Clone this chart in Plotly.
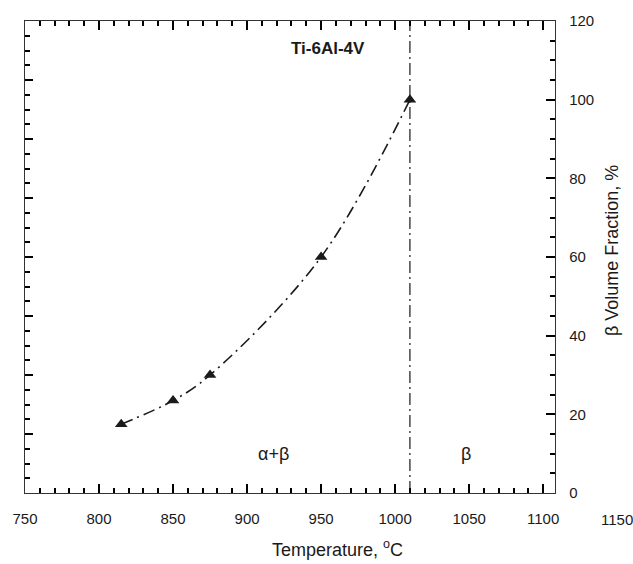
import plotly.graph_objects as go

# Data
temperature_c = [815, 850, 875, 950, 1010]
beta_fraction = [17.5, 23.5, 30, 60, 100]
beta_transus = 1010
x_range = [750, 1108]
y_range = [0, 120]

ink = "#1a1a1a"
axc = "#000000"
font = "Liberation Sans, Arial, sans-serif"

fig = go.Figure()

fig.add_trace(go.Scatter(
    x=temperature_c, y=beta_fraction, mode="lines+markers",
    line=dict(color=ink, width=1.6, dash="12px,5px,2px,5px", shape="spline", smoothing=1.0),
    marker=dict(symbol="triangle-up", size=11, color=ink),
    showlegend=False, hoverinfo="skip"))

fig.add_trace(go.Scatter(
    x=[beta_transus, beta_transus], y=y_range, mode="lines",
    line=dict(color=ink, width=1.2, dash="12px,4px,2px,4px"),
    showlegend=False, hoverinfo="skip"))

fig.add_trace(go.Scatter(x=[750], y=[0], yaxis="y2", mode="markers",
                         marker=dict(opacity=0), showlegend=False, hoverinfo="skip"))

fig.update_layout(
    width=633, height=564, margin=dict(l=25, r=78, t=13, b=71),
    plot_bgcolor="white", paper_bgcolor="white", showlegend=False,
    font=dict(family=font, size=15, color=ink),
    xaxis=dict(range=x_range, dtick=50, ticks="inside", ticklen=9, tickwidth=2, tickcolor=axc,
               minor=dict(dtick=10, ticks="inside", ticklen=5, tickwidth=1.5, tickcolor=axc),
               showline=True, linecolor="#333333", linewidth=1.3, mirror="ticks",
               showgrid=False, zeroline=False, ticklabelstandoff=12),
    yaxis=dict(range=y_range, dtick=20, side="right", ticks="inside", ticklen=9, tickwidth=2,
               tickcolor=axc, minor=dict(dtick=5, ticks="inside", ticklen=5, tickwidth=1.5,
                                         tickcolor=axc),
               showline=True, linecolor="#333333", linewidth=1.3, showgrid=False, zeroline=False,
               ticklabelstandoff=10),
    yaxis2=dict(range=[0, 8], dtick=1, overlaying="y", side="left", ticks="inside",
                ticklen=8, tickwidth=2, tickcolor=axc,
                minor=dict(dtick=0.25, ticks="inside", ticklen=5, tickwidth=1.5, tickcolor=axc),
                showline=True, linecolor="#333333", linewidth=1.3, showticklabels=False,
                showgrid=False, zeroline=False),
)

# extra tick label beyond the frame
fig.add_annotation(text="1150", xref="paper", yref="paper",
                   x=(1150 - x_range[0]) / (x_range[1] - x_range[0]), y=0,
                   yshift=-26, showarrow=False, font=dict(size=15, color=ink),
                   xanchor="center", yanchor="middle")

fig.add_annotation(text="<b>Ti-6Al-4V</b>", xref="x", yref="y", x=955, y=113,
                   showarrow=False, font=dict(size=17, color=ink, family=font),
                   xanchor="center", yanchor="middle")
fig.add_annotation(text="α+β", xref="x", yref="y", x=918, y=10,
                   showarrow=False, font=dict(size=18, color=ink),
                   xanchor="center", yanchor="middle")
fig.add_annotation(text="β", xref="x", yref="y", x=1048, y=10,
                   showarrow=False, font=dict(size=18, color=ink),
                   xanchor="center", yanchor="middle")
fig.add_annotation(text="Temperature, <sup>o</sup>C", xref="paper", yref="paper",
                   x=(337 - 25) / 530, y=0, yshift=-55, showarrow=False,
                   font=dict(size=18, color=ink), xanchor="center", yanchor="middle")
fig.add_annotation(text="β Volume Fraction, %", xref="paper", yref="paper",
                   x=(612 - 25) / 530, y=(493 - 247) / 480, textangle=-90,
                   showarrow=False, font=dict(size=18, color=ink),
                   xanchor="center", yanchor="middle")

fig.write_html("out.html")
